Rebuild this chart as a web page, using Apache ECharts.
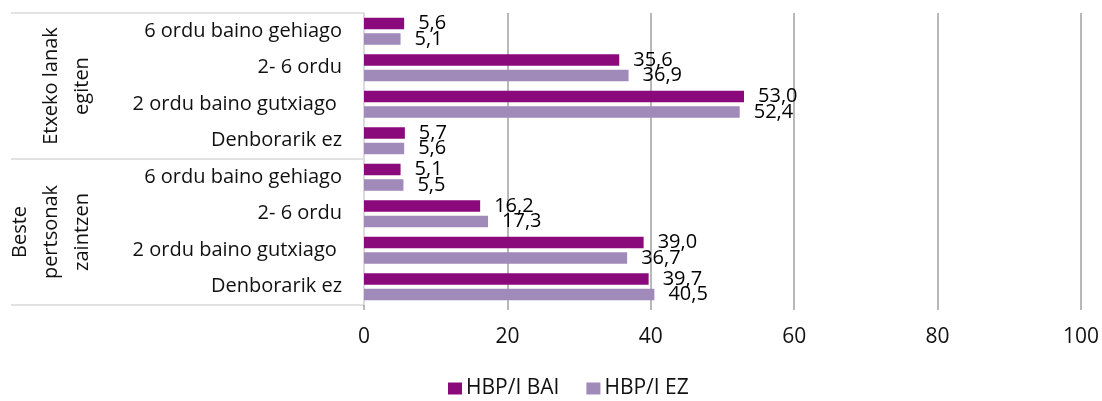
<!DOCTYPE html>
<html>
<head>
<meta charset="utf-8">
<script src="https://cdn.jsdelivr.net/npm/echarts@6/dist/echarts.min.js"></script>
<style>
  html, body { margin: 0; padding: 0; background: #fff; }
  #chart { width: 1102px; height: 401px; }
</style>
</head>
<body>
<div id="chart"></div>
<script>
const categories = [
  '6 ordu baino gehiago', '2- 6 ordu', '2 ordu baino gutxiago ', 'Denborarik ez',
  '6 ordu baino gehiago', '2- 6 ordu', '2 ordu baino gutxiago ', 'Denborarik ez'
]
const groups = ['Etxeko lanak\negiten', 'Beste\npertsonak\nzaintzen']
const seriesNames = ['HBP/I BAI', 'HBP/I EZ']
const baiValues = [5.6, 35.6, 53.0, 5.7, 5.1, 16.2, 39.0, 39.7]
const ezValues = [5.1, 36.9, 52.4, 5.6, 5.5, 17.3, 36.7, 40.5]
const xTicks = [0, 20, 40, 60, 80, 100]

const FONT = 'Open Sans'
const chart = echarts.init(document.getElementById('chart'))

const labelOpt = {
  show: true,
  position: 'right',
  distance: 14,
  color: '#000',
  fontFamily: FONT,
  fontSize: 20,
  formatter: p => p.value.toFixed(1).replace('.', ',')
}

chart.setOption({
  animation: false,
  backgroundColor: '#fff',
  textStyle: { fontFamily: FONT },
  legend: {
    data: seriesNames,
    top: 378,
    left: 448,
    padding: 0,
    itemWidth: 14,
    itemHeight: 12,
    itemGap: 27,
    icon: 'rect',
    textStyle: { color: '#111', fontSize: 21, fontFamily: FONT, padding: [0, 0, 0, -1] }
  },
  grid: { left: 364, right: 19, top: 13, bottom: 96 },
  xAxis: {
    type: 'value',
    min: xTicks[0],
    max: xTicks[xTicks.length - 1],
    interval: 20,
    axisLine: { show: false },
    axisTick: { show: true, length: 5, lineStyle: { color: '#a0a0a0', width: 1.5 } },
    axisLabel: { color: '#111', fontSize: 21, margin: 22, fontFamily: FONT },
    splitLine: {
      lineStyle: {
        color: ['#d9d9d9', '#a0a0a0', '#a0a0a0', '#a0a0a0', '#a0a0a0', '#a0a0a0'],
        width: 1.5
      }
    }
  },
  yAxis: [
    {
      type: 'category',
      data: categories,
      inverse: true,
      axisLine: { show: true, lineStyle: { color: '#d9d9d9', width: 1.5 } },
      axisTick: { show: false },
      axisLabel: { color: '#111', fontSize: 20, margin: 22, interval: 0, fontFamily: FONT }
    },
    {
      type: 'category',
      data: groups,
      inverse: true,
      position: 'left',
      axisLine: { show: false },
      axisTick: {
        show: true, interval: 0, length: 353,
        lineStyle: { color: '#d9d9d9', width: 1.5 }
      },
      axisLabel: {
        color: '#111', fontSize: 20, rotate: 90, margin: 266,
        interval: 0, hideOverlap: false,
        lineHeight: 31, fontFamily: FONT
      }
    }
  ],
  series: [
    {
      name: seriesNames[0],
      type: 'bar',
      data: baiValues,
      barWidth: 11.5,
      barGap: '35%',
      itemStyle: { color: '#8b0a7b' },
      label: labelOpt
    },
    {
      name: seriesNames[1],
      type: 'bar',
      data: ezValues,
      barWidth: 11.5,
      itemStyle: { color: '#a08aba' },
      label: labelOpt
    }
  ]
})

window.addEventListener('resize', () => chart.resize())
</script>
</body>
</html>
